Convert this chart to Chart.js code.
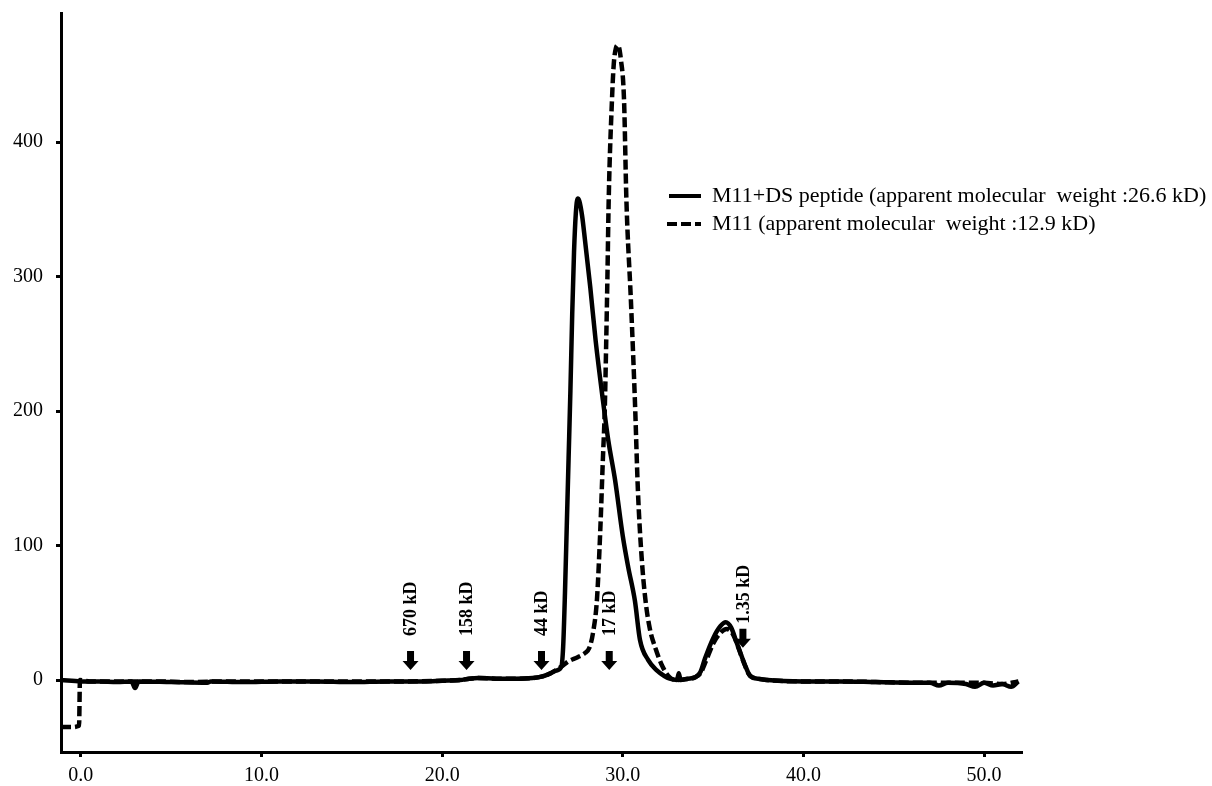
<!DOCTYPE html>
<html>
<head>
<meta charset="utf-8">
<script src="https://cdn.jsdelivr.net/npm/chart.js"></script>
<style>
  body { margin: 0; background: #fff; }
  canvas { display: block; }
</style>
</head>
<body>
<canvas id="myChart" width="1212" height="786"></canvas>
<script>
// elution volume (x) and absorbance (y)
const solidX = [-1.1, 0, 1, 2, 2.8, 3.0, 3.2, 5, 7, 7.2, 9, 11, 13, 15, 17, 19, 20, 21, 21.5, 22,
  23, 24, 25, 25.5, 26, 26.3, 26.6, 26.7, 26.8, 26.9, 27.0, 27.1, 27.2, 27.3, 27.4, 27.5, 27.6, 27.75, 27.9, 28.2,
  28.5, 28.9, 29.2, 29.57, 30.0, 30.3, 30.67, 30.95, 31.4, 31.9, 32.3, 32.6, 33.0, 33.1, 33.2, 33.6, 34.0, 34.3, 34.55, 35.0,
  35.4, 35.7, 36.0, 36.3, 36.6, 36.8, 37.05, 37.5, 38, 40, 42, 44, 46, 47, 47.5, 48, 49, 49.5, 50, 50.5, 51, 51.5, 51.9];
const solidY = [0, -1, -1, -1.5, -1, -6, -1, -1.5, -2, -1, -1.5, -1, -1, -1.5, -1, -1, -0.5, 0, 1, 1.5,
  1, 1, 1.5, 2.5, 5, 7, 10, 25, 65, 115, 165, 215, 272, 318, 347, 358, 356, 345, 328, 292,
  252, 208, 178, 149, 107, 84, 59, 30, 15, 7, 3, 1, 0, 5, 0, 1, 2, 6, 16, 31,
  40, 43, 39, 28, 17, 10, 3, 1, 0, -1, -1, -1.5, -2, -2, -4, -2, -3, -5, -2, -4, -3, -5, -1];

const dashX = [-1.1, -0.6, -0.1, -0.05, 0.5, 2, 4, 6, 8, 10, 12, 14, 16, 18, 20, 21, 21.5, 22, 23, 24, 25,
  25.5, 26, 26.6, 27, 27.5, 27.9, 28.15, 28.35, 28.57, 28.75, 28.9, 29.0, 29.08, 29.15, 29.22, 29.4, 29.5, 29.62,
  29.73, 29.9, 30.07, 30.2, 30.45, 30.67, 30.84, 31.05, 31.25, 31.5, 31.8, 32.2, 32.6, 33.0, 33.6, 34.0, 34.3, 34.6,
  35.0, 35.4, 35.75, 36.1, 36.4, 36.7, 37.0, 37.5, 38, 40, 42, 44, 46, 48, 50, 51, 51.9];
const dashY = [-35, -35, -34, 0, -1, -1, -1, -1.5, -1, -1, -1, -1, -1, -1, -0.5, 0, 1, 1.5, 1, 1, 1.5,
  2.5, 5, 10, 14, 17, 20, 24, 35, 60, 110, 165, 200, 250, 300, 357, 431, 458, 470,
  472, 461, 431, 357, 282, 208, 140, 90, 60, 38, 24, 10, 2, 0, 1, 2, 5, 14,
  27, 35, 38, 34, 24, 13, 4, 1, 0, -1, -1, -1.5, -2, -2, -2, -3, -1];

const xTicks = [0, 10, 20, 30, 40, 50];
const yTicks = [0, 100, 200, 300, 400];

// calibration standards
const markerLabels = ['670 kD', '158 kD', '44 kD', '17 kD', '1.35 kD'];
const markerX = [18.25, 21.35, 25.5, 29.25, 36.65];
const markerY = [7.4, 7.4, 7.4, 7.4, 24];
const labelLift = [34, 34, 34, 34, 24];

const serif = '"Liberation Serif", "Times New Roman", serif';

function toPoints(xs, ys) {
  return xs.map((x, i) => ({ x: x, y: ys[i] }));
}

const markerPlugin = {
  id: 'markers',
  afterDatasetsDraw(chart) {
    const ctx = chart.ctx;
    const xs = chart.scales.x, ys = chart.scales.y;
    ctx.save();
    ctx.fillStyle = '#000';
    for (let i = 0; i < markerLabels.length; i++) {
      const px = xs.getPixelForValue(markerX[i]);
      const tip = ys.getPixelForValue(markerY[i]);
      // arrow pointing down
      ctx.beginPath();
      ctx.moveTo(px - 3.5, tip - 19);
      ctx.lineTo(px + 3.5, tip - 19);
      ctx.lineTo(px + 3.5, tip - 9);
      ctx.lineTo(px + 8, tip - 9);
      ctx.lineTo(px, tip);
      ctx.lineTo(px - 8, tip - 9);
      ctx.lineTo(px - 3.5, tip - 9);
      ctx.closePath();
      ctx.fill();
      // label, reading upwards
      ctx.save();
      ctx.translate(px + 1, tip - labelLift[i]);
      ctx.rotate(-Math.PI / 2);
      ctx.font = 'bold 18px ' + serif;
      ctx.textAlign = 'left';
      ctx.textBaseline = 'middle';
      ctx.fillText(markerLabels[i], 0, 0);
      ctx.restore();
    }
    ctx.restore();
  }
};

const legendPlugin = {
  id: 'ownLegend',
  afterDraw(chart) {
    const ctx = chart.ctx;
    ctx.save();
    chart.data.datasets.forEach((ds, i) => {
      const y = 196 + i * 28;
      ctx.strokeStyle = '#000';
      ctx.lineWidth = 4;
      ctx.setLineDash(ds.borderDash || []);
      ctx.beginPath();
      ctx.moveTo(ds.borderDash ? 667 : 669, y);
      ctx.lineTo(701, y);
      ctx.stroke();
      ctx.setLineDash([]);
      ctx.fillStyle = '#000';
      ctx.font = '22px ' + serif;
      ctx.textAlign = 'left';
      ctx.textBaseline = 'middle';
      ctx.fillText(ds.label, 712, y);
    });
    ctx.restore();
  }
};

const ctx = document.getElementById('myChart');

new Chart(ctx, {
  type: 'line',
  data: {
    datasets: [{
      label: 'M11+DS peptide (apparent molecular  weight :26.6 kD)',
      data: toPoints(solidX, solidY),
      borderColor: '#000',
      borderWidth: 4.5,
      pointRadius: 0,
      cubicInterpolationMode: 'monotone'
    }, {
      label: 'M11 (apparent molecular  weight :12.9 kD)',
      data: toPoints(dashX, dashY),
      borderColor: '#000',
      borderWidth: 4.5,
      borderDash: [10, 4],
      pointRadius: 0,
      cubicInterpolationMode: 'monotone'
    }]
  },
  options: {
    responsive: false,
    animation: false,
    layout: { padding: { left: 0, top: 13, right: 190, bottom: 0 } },
    scales: {
      x: {
        type: 'linear',
        min: -1.1,
        max: 52.1,
        afterBuildTicks: (scale) => { scale.ticks = xTicks.map(v => ({ value: v })); },
        afterFit: (scale) => { scale.height = 34; },
        border: { display: true, color: '#000', width: 3 },
        grid: { drawOnChartArea: false, drawTicks: true, tickLength: 5, tickColor: '#000', tickWidth: 3 },
        ticks: {
          color: '#000',
          padding: 7,
          maxRotation: 0,
          font: { family: serif, size: 20 },
          callback: (v) => Number(v).toFixed(1)
        }
      },
      y: {
        min: -53.5,
        max: 496,
        afterBuildTicks: (scale) => { scale.ticks = yTicks.map(v => ({ value: v })); },
        afterFit: (scale) => {
          scale.width = 61;
          scale.paddingTop = 0;
          scale.paddingBottom = 0;
        },
        border: { display: true, color: '#000', width: 3 },
        grid: { drawOnChartArea: false, drawTicks: true, tickLength: 5, tickColor: '#000', tickWidth: 3 },
        ticks: {
          color: '#000',
          padding: 13,
          font: { family: serif, size: 20 }
        }
      }
    },
    plugins: {
      legend: { display: false },
      tooltip: { enabled: false }
    }
  },
  plugins: [markerPlugin, legendPlugin]
});
</script>
</body>
</html>
